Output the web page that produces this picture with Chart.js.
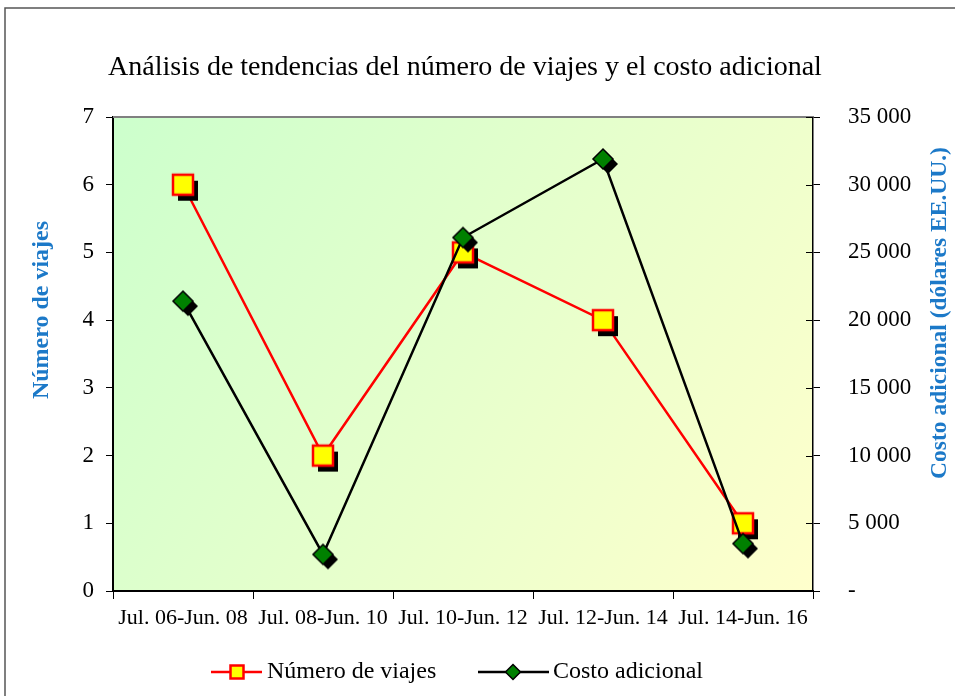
<!DOCTYPE html>
<html>
<head>
<meta charset="utf-8">
<script src="https://cdn.jsdelivr.net/npm/chart.js@4.4.1/dist/chart.umd.min.js"></script>
<style>
  body { margin: 0; background: #fff; }
  canvas { display: block; }
</style>
</head>
<body>
<canvas id="tripsChart" width="955" height="696"></canvas>
<script>
const categories = ['Jul. 06-Jun. 08', 'Jul. 08-Jun. 10', 'Jul. 10-Jun. 12', 'Jul. 12-Jun. 14', 'Jul. 14-Jun. 16'];
const numViajes = [6, 2, 5, 4, 1];
const costoAdicional = [21400, 2700, 26100, 31900, 3500];
const leftTicks = [0, 1, 2, 3, 4, 5, 6, 7];
const rightTicks = [0, 5000, 10000, 15000, 20000, 25000, 30000, 35000];

const SERIF = '"Liberation Serif", "Times New Roman", serif';
const TITLE_BLUE = '#1c79c8';

// marker images with the drop shadow baked in
function squareMarker(size, shadow) {
    const c = document.createElement('canvas');
    c.width = 46; c.height = 46;
    const g = c.getContext('2d');
    const h = size / 2;
    if (shadow) {
        g.fillStyle = '#000';
        g.fillRect(23 - h + 5, 23 - h + 6, size, size);
    }
    g.fillStyle = '#ffff00';
    g.fillRect(23 - h, 23 - h, size, size);
    g.strokeStyle = '#ff0000';
    g.lineWidth = 2.5;
    g.strokeRect(23 - h, 23 - h, size, size);
    return c;
}

function diamondMarker(r, shadow) {
    const c = document.createElement('canvas');
    c.width = 46; c.height = 46;
    const g = c.getContext('2d');
    const path = (cx, cy) => {
        g.beginPath();
        g.moveTo(cx, cy - r);
        g.lineTo(cx + r, cy);
        g.lineTo(cx, cy + r);
        g.lineTo(cx - r, cy);
        g.closePath();
    };
    if (shadow) {
        path(28, 28);
        g.fillStyle = '#000';
        g.fill();
    }
    path(23, 23);
    g.fillStyle = '#008000';
    g.fill();
    g.strokeStyle = '#000';
    g.lineWidth = 1.5;
    g.stroke();
    return c;
}

const squareImg = squareMarker(20, true);
const diamondImg = diamondMarker(10, true);
const squareLegend = squareMarker(13, false);
const diamondLegend = diamondMarker(7.5, false);

function fmtThousands(v) {
    if (v === 0) return '-';
    return String(v).replace(/\B(?=(\d{3})+(?!\d))/g, ' ');
}

const decorPlugin = {
    id: 'decor',
    beforeDraw(chart) {
        const { ctx, chartArea: a } = chart;
        ctx.save();
        ctx.fillStyle = '#fff';
        ctx.fillRect(0, 0, chart.width, chart.height);
        const grad = ctx.createLinearGradient(a.left, a.top, a.right, a.bottom);
        grad.addColorStop(0, '#ccffcc');
        grad.addColorStop(1, '#ffffcc');
        ctx.fillStyle = grad;
        ctx.fillRect(a.left, a.top, a.right - a.left, a.bottom - a.top);
        // outer frame
        ctx.strokeStyle = '#555';
        ctx.lineWidth = 1.5;
        ctx.beginPath();
        ctx.moveTo(5, chart.height);
        ctx.lineTo(5, 8);
        ctx.lineTo(chart.width, 8);
        ctx.stroke();
        ctx.restore();
    },
    afterDraw(chart) {
        const { ctx, chartArea: a } = chart;
        ctx.save();
        // top border of plot area
        ctx.strokeStyle = '#808080';
        ctx.lineWidth = 2;
        ctx.beginPath();
        ctx.moveTo(a.left, a.top);
        ctx.lineTo(a.right, a.top);
        ctx.stroke();

        // inner half of the right-axis ticks
        const y1 = chart.scales.y1;
        ctx.strokeStyle = '#000';
        ctx.lineWidth = 1;
        y1.ticks.forEach(t => {
            const y = Math.round(y1.getPixelForValue(t.value)) + 0.5;
            ctx.beginPath();
            ctx.moveTo(a.right - 7, y);
            ctx.lineTo(a.right, y);
            ctx.stroke();
        });

        // title
        ctx.fillStyle = '#000';
        ctx.font = '28px ' + SERIF;
        ctx.textAlign = 'center';
        ctx.textBaseline = 'middle';
        ctx.fillText('Análisis de tendencias del número de viajes y el costo adicional', 465, 68);

        // axis titles
        ctx.fillStyle = TITLE_BLUE;
        ctx.font = 'bold 24px ' + SERIF;
        ctx.save();
        ctx.translate(42, 310);
        ctx.rotate(-Math.PI / 2);
        ctx.fillText('Número de viajes', 0, 0);
        ctx.restore();
        ctx.save();
        ctx.translate(940, 313);
        ctx.rotate(-Math.PI / 2);
        ctx.font = 'bold 23.5px ' + SERIF;
        ctx.fillText('Costo adicional (dólares EE.UU.)', 0, 0);
        ctx.restore();

        // legend
        const ly = 672;
        ctx.lineWidth = 2.5;
        ctx.strokeStyle = '#ff0000';
        ctx.beginPath();
        ctx.moveTo(211, ly);
        ctx.lineTo(262, ly);
        ctx.stroke();
        ctx.drawImage(squareLegend, 237 - 23, ly - 23);
        ctx.strokeStyle = '#000';
        ctx.beginPath();
        ctx.moveTo(478, ly);
        ctx.lineTo(549, ly);
        ctx.stroke();
        ctx.drawImage(diamondLegend, 513 - 23, ly - 23);
        ctx.fillStyle = '#000';
        ctx.font = '24px ' + SERIF;
        ctx.textAlign = 'left';
        ctx.fillText('Número de viajes', 267, ly);
        ctx.fillText('Costo adicional', 553, ly);
        ctx.restore();
    }
};

new Chart(document.getElementById('tripsChart'), {
    type: 'line',
    data: {
        labels: categories,
        datasets: [
            {
                label: 'Número de viajes',
                data: numViajes,
                yAxisID: 'y',
                borderColor: '#ff0000',
                borderWidth: 2.5,
                pointStyle: squareImg,
                tension: 0,
                order: 1
            },
            {
                label: 'Costo adicional',
                data: costoAdicional,
                yAxisID: 'y1',
                borderColor: '#000000',
                borderWidth: 2.5,
                pointStyle: diamondImg,
                tension: 0,
                order: 0
            }
        ]
    },
    options: {
        responsive: false,
        animation: false,
        layout: { padding: { top: 117, bottom: 60, left: 0, right: 0 } },
        plugins: {
            legend: { display: false },
            title: { display: false },
            tooltip: { enabled: false }
        },
        scales: {
            x: {
                offset: true,
                grid: {
                    offset: true,
                    drawOnChartArea: false,
                    tickLength: 8,
                    color: '#000',
                    lineWidth: 1
                },
                border: { display: true, color: '#000', width: 2 },
                ticks: {
                    color: '#000',
                    font: { family: SERIF, size: 22 },
                    padding: 6,
                    maxRotation: 0,
                    autoSkip: false
                },
                afterFit(scale) { scale.height = 45; }
            },
            y: {
                position: 'left',
                min: 0,
                max: 7,
                afterBuildTicks(scale) { scale.ticks = leftTicks.map(v => ({ value: v })); },
                grid: { drawOnChartArea: false, tickLength: 7, color: '#000', lineWidth: 1 },
                border: { display: true, color: '#000', width: 2 },
                ticks: {
                    color: '#000',
                    font: { family: SERIF, size: 23 },
                    padding: 12
                },
                afterFit(scale) { scale.width = 113; }
            },
            y1: {
                position: 'right',
                min: 0,
                max: 35000,
                afterBuildTicks(scale) { scale.ticks = rightTicks.map(v => ({ value: v })); },
                grid: { drawOnChartArea: false, tickLength: 7, color: '#000', lineWidth: 1 },
                border: { display: true, color: '#000', width: 1.5 },
                ticks: {
                    color: '#000',
                    font: { family: SERIF, size: 23 },
                    padding: 28,
                    callback: v => fmtThousands(v)
                },
                afterFit(scale) { scale.width = 142; }
            }
        }
    },
    plugins: [decorPlugin]
});
</script>
</body>
</html>
